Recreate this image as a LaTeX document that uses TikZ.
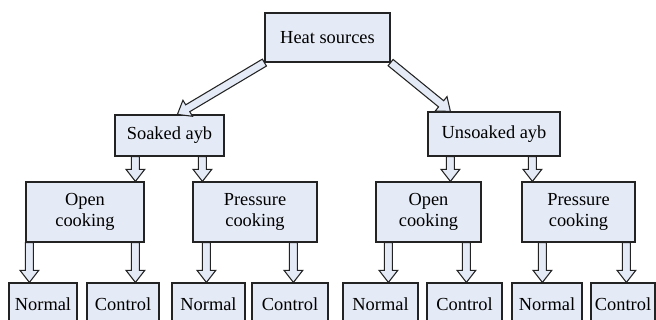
\documentclass[tikz,border=0pt]{standalone}
\usepackage{fontspec}
\setmainfont{Liberation Serif}
\newfontfamily\timesfont{Liberation Serif}
\usetikzlibrary{calc}
\definecolor{boxfill}{RGB}{229,235,246}
\definecolor{edge}{RGB}{35,35,35}

\begin{document}
\begin{tikzpicture}[x=0.75pt, y=-0.75pt,
    box/.style = {draw=edge, fill=boxfill, line width=0.9pt, inner sep=0pt, align=center,
        font=\timesfont\fontsize{13.8}{16}\selectfont},
    low/.style = {box, minimum height=31.5pt},
    hollow/.style = {draw=edge, fill=boxfill, line width=0.8pt, line join=miter,
        to path={let \p1=($(\tikztotarget)-(\tikztostart)$), \n1={atan2(\y1,\x1)} in
            ($(\tikztostart)+({\n1+90}:3pt)$)
            -- ($(\tikztotarget)+({\n1+180}:9pt)+({\n1+90}:3pt)$)
            -- ($(\tikztotarget)+({\n1+180}:9pt)+({\n1+90}:7pt)$)
            -- (\tikztotarget)
            -- ($(\tikztotarget)+({\n1+180}:9pt)+({\n1-90}:7pt)$)
            -- ($(\tikztotarget)+({\n1+180}:9pt)+({\n1-90}:3pt)$)
            -- ($(\tikztostart)+({\n1-90}:3pt)$) -- cycle}}]
    \useasboundingbox (0,0) rectangle (656,320);
    \node[box, minimum width=93.75pt, minimum height=36.75pt] (hs) at (327.5,37.5) {Heat sources};
    \node[box, minimum width=81.75pt, minimum height=30.75pt] (soak) at (169.5,135.5) {Soaked ayb};
    \node[box, minimum width=99pt, minimum height=33pt] (unsoak) at (494,134) {Unsoaked ayb};
    \node[box, minimum width=88.5pt, minimum height=45pt] (oc1) at (85,212) {Open\\cooking};
    \node[box, minimum width=93pt, minimum height=45pt] (pc1) at (255,212) {Pressure\\cooking};
    \node[box, minimum width=78.75pt, minimum height=45pt] (oc2) at (428.5,212) {Open\\cooking};
    \node[box, minimum width=84.75pt, minimum height=45pt] (pc2) at (578.5,212) {Pressure\\cooking};
    \node[low, minimum width=51pt] (n1) at (43,304) {Normal};
    \node[low, minimum width=54pt] (c1) at (123,304) {Control};
    \node[low, minimum width=54.75pt] (n2) at (208.5,304) {Normal};
    \node[low, minimum width=57pt] (c2) at (290,304) {Control};
    \node[low, minimum width=56.25pt] (n3) at (380.5,304) {Normal};
    \node[low, minimum width=56.25pt] (c3) at (464.5,304) {Control};
    \node[low, minimum width=52.5pt] (n4) at (547,304) {Normal};
    \node[low, minimum width=48pt] (c4) at (623,304) {Control};
    %% Arrows
    \draw[hollow] (hs.south west) to ([shift={(63,0)}]soak.north west);
    \draw[hollow] (hs.south east) to ([shift={(23,0)}]unsoak.north west);
    \draw[hollow] ([shift={(21,0)}]soak.south west) to ([shift={(110,0)}]oc1.north west);
    \draw[hollow] ([shift={(88,0)}]soak.south west) to ([shift={(10,0)}]pc1.north west);
    \draw[hollow] ([shift={(23,0)}]unsoak.south west) to ([shift={(75,0)}]oc2.north west);
    \draw[hollow] ([shift={(105,0)}]unsoak.south west) to ([shift={(11,0)}]pc2.north west);
    \draw[hollow] ([shift={(4,0)}]oc1.south west) to ([shift={(21,0)}]n1.north west);
    \draw[hollow] ([shift={(110,0)}]oc1.south west) to ([shift={(49,0)}]c1.north west);
    \draw[hollow] ([shift={(14,0)}]pc1.south west) to ([shift={(35,0)}]n2.north west);
    \draw[hollow] ([shift={(101,0)}]pc1.south west) to ([shift={(42,0)}]c2.north west);
    \draw[hollow] ([shift={(13,0)}]oc2.south west) to ([shift={(46,0)}]n3.north west);
    \draw[hollow] ([shift={(91,0)}]oc2.south west) to ([shift={(40,0)}]c3.north west);
    \draw[hollow] ([shift={(21,0)}]pc2.south west) to ([shift={(31,0)}]n4.north west);
    \draw[hollow] ([shift={(105,0)}]pc2.south west) to ([shift={(36,0)}]c4.north west);
\end{tikzpicture}
\end{document}
